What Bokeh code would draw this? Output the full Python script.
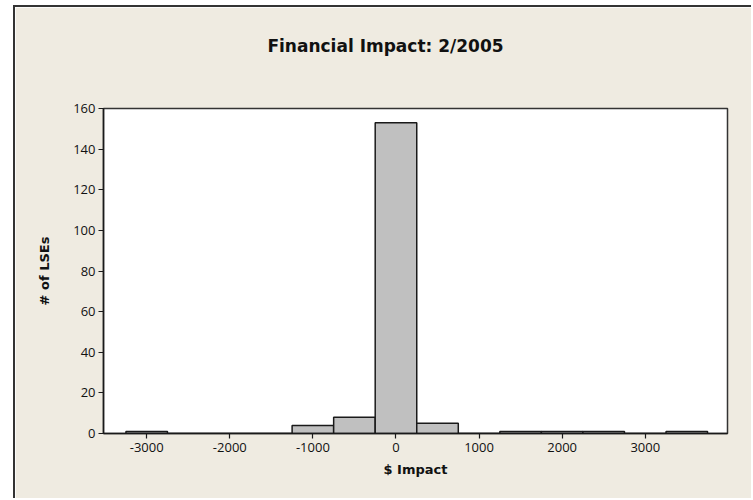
from bokeh.plotting import figure
from bokeh.models import Range1d, FixedTicker, Label
from bokeh.embed import file_html
from bokeh.resources import INLINE

# Histogram data (bin centers, bin width 500)
bin_centers = [-3000, -2500, -2000, -1500, -1000, -500, 0, 500, 1000, 1500, 2000, 2500, 3000, 3500]
counts = [1, 0, 0, 0, 4, 8, 153, 5, 0, 1, 1, 1, 0, 1]
bin_width = 500
x_ticks = [-3000, -2000, -1000, 0, 1000, 2000, 3000]
y_ticks = [0, 20, 40, 60, 80, 100, 120, 140, 160]
title_text = "Financial Impact: 2/2005"

BG = "#EFEBE1"

p = figure(width=738, height=493, output_backend="svg", toolbar_location=None,
           x_range=Range1d(-3520, 3990), y_range=Range1d(0, 160),
           min_border_left=88, min_border_right=26, min_border_top=101, min_border_bottom=67,
           margin=(5, 0, 0, 13),
           styles={"border-left": "2px solid #333333", "border-top": "2px solid #333333"})
p.border_fill_color = BG
p.background_fill_color = "white"
p.outline_line_color = "#333333"
p.outline_line_width = 1.5

title = Label(x=282, y=63, x_units="screen", y_units="screen", text=title_text,
              text_align="center", text_baseline="middle",
              text_font="DejaVu Sans", text_font_size="17px", text_font_style="bold",
              text_color="#111111")
p.add_layout(title, "above")

p.vbar(x=bin_centers, width=bin_width, top=counts, bottom=0,
       fill_color="#C0C0C0", line_color="#1a1a1a", line_width=1.5)

p.xgrid.visible = False
p.ygrid.visible = False

for ax in (p.xaxis[0], p.yaxis[0]):
    ax.minor_tick_line_color = None
    ax.major_tick_in = 0
    ax.major_tick_out = 5
    ax.axis_line_color = "#1a1a1a"
    ax.axis_line_width = 1.5
    ax.major_tick_line_color = "#1a1a1a"
    ax.major_tick_line_width = 1.2
    ax.major_label_text_font = "Open Sans"
    ax.major_label_text_font_size = "13px"
    ax.major_label_text_color = "#111111"
    ax.axis_label_text_font = "DejaVu Sans"
    ax.axis_label_text_font_size = "13px"
    ax.axis_label_text_font_style = "bold"
    ax.axis_label_text_color = "#111111"

p.xaxis.ticker = FixedTicker(ticks=x_ticks)
p.yaxis.ticker = FixedTicker(ticks=y_ticks)
p.xaxis.major_label_overrides = {t: str(t) for t in x_ticks}
p.yaxis.major_label_overrides = {t: str(t) for t in y_ticks}
p.xaxis.axis_label = "$ Impact"
p.yaxis.axis_label = "# of LSEs"
p.xaxis.major_label_standoff = 4
p.yaxis.major_label_standoff = 3
p.xaxis.axis_label_standoff = 7
p.yaxis.axis_label_standoff = 18

open("out.html", "w").write(file_html(p, INLINE))
